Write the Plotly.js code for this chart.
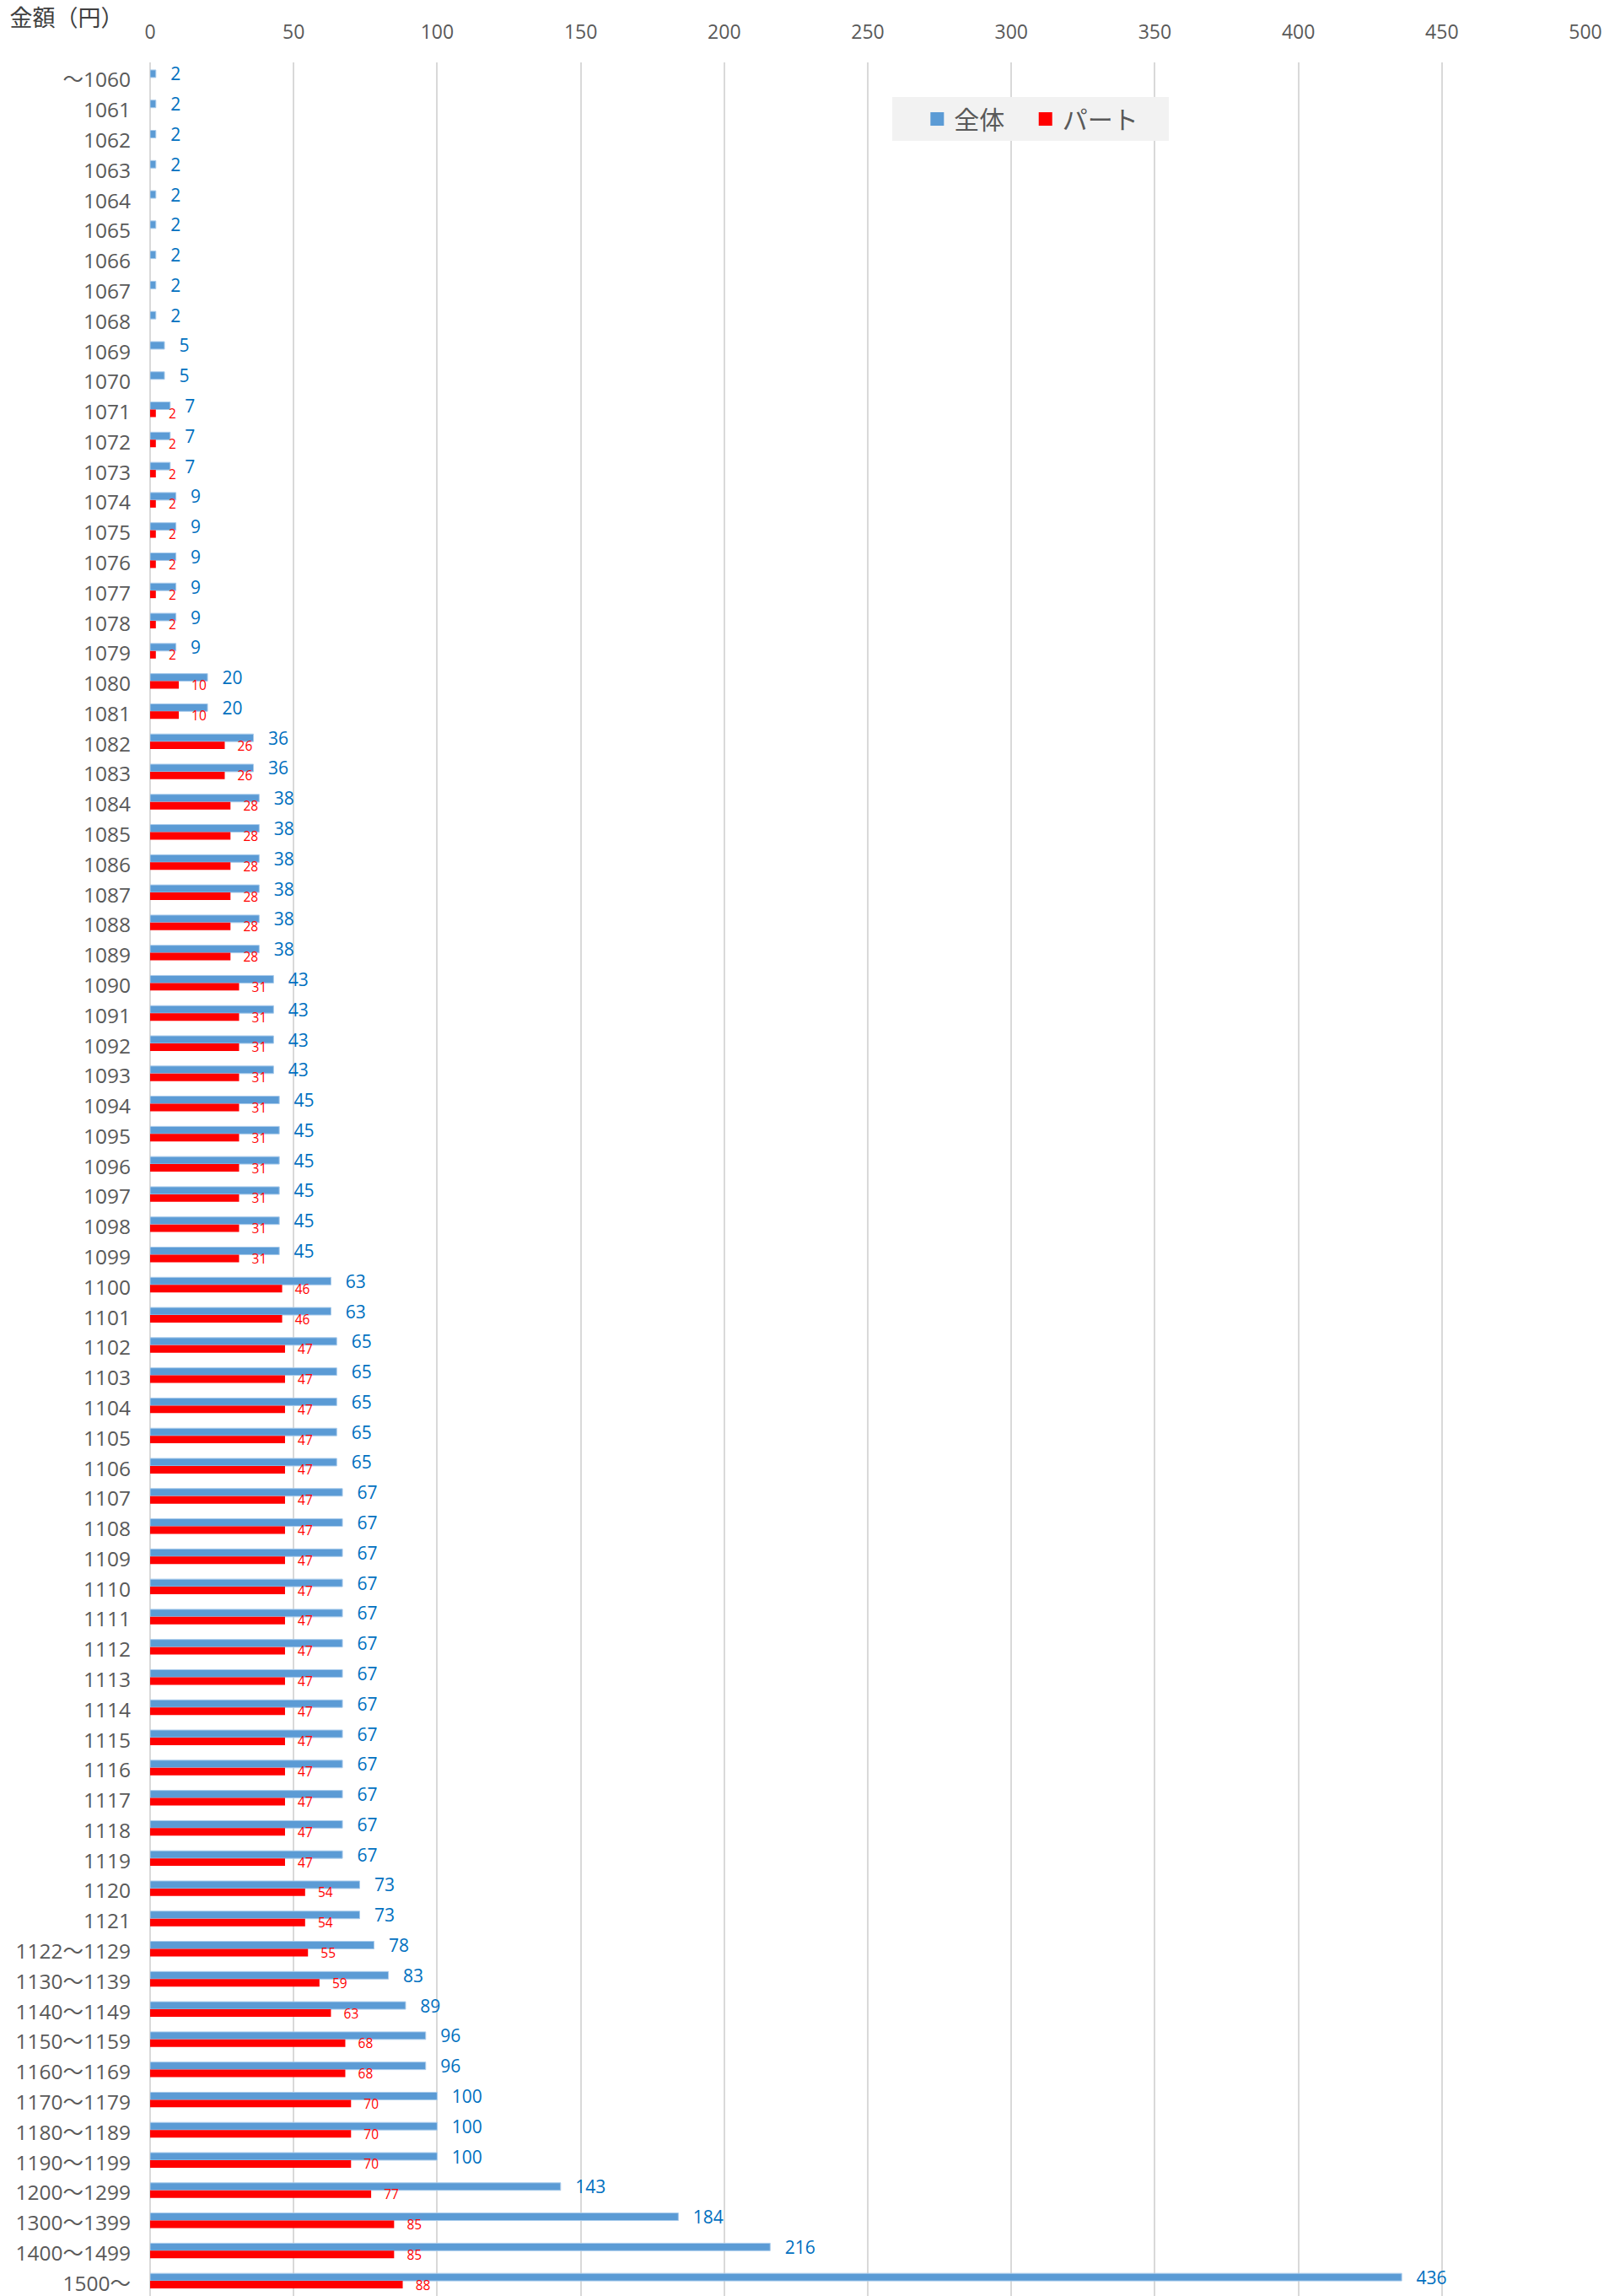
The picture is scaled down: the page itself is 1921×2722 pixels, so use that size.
<!DOCTYPE html>
<html>
<head>
<meta charset="utf-8">
<script src="https://cdn.plot.ly/plotly-3.0.1.min.js"></script>
<style>html,body{margin:0;padding:0;background:#fff;}</style>
</head>
<body>
<div id="chart" style="width:1921px;height:2722px;"></div>
<script>
const categories = [
  "〜1060","1061","1062","1063","1064","1065","1066","1067","1068","1069","1070",
  "1071","1072","1073","1074","1075","1076","1077","1078","1079","1080","1081",
  "1082","1083","1084","1085","1086","1087","1088","1089","1090","1091","1092",
  "1093","1094","1095","1096","1097","1098","1099","1100","1101","1102","1103",
  "1104","1105","1106","1107","1108","1109","1110","1111","1112","1113","1114",
  "1115","1116","1117","1118","1119","1120","1121",
  "1122〜1129","1130〜1139","1140〜1149","1150〜1159","1160〜1169",
  "1170〜1179","1180〜1189","1190〜1199","1200〜1299","1300〜1399","1400〜1499","1500〜"
];
const zentai = [
  2,2,2,2,2,2,2,2,2,5,5,
  7,7,7,9,9,9,9,9,9,20,20,
  36,36,38,38,38,38,38,38,43,43,43,
  43,45,45,45,45,45,45,63,63,65,65,
  65,65,65,67,67,67,67,67,67,67,67,
  67,67,67,67,67,73,73,
  78,83,89,96,96,
  100,100,100,143,184,216,436
];
const part = [
  null,null,null,null,null,null,null,null,null,null,null,
  2,2,2,2,2,2,2,2,2,10,10,
  26,26,28,28,28,28,28,28,31,31,31,
  31,31,31,31,31,31,31,46,46,47,47,
  47,47,47,47,47,47,47,47,47,47,47,
  47,47,47,47,47,54,54,
  55,59,63,68,68,
  70,70,70,77,85,85,88
];
const seriesNames = ["全体", "パート"];
const seriesColors = ["#5B9BD5", "#FF0000"];
const labelColors = ["#0070C0", "#FF0000"];
const xTicks = [0,50,100,150,200,250,300,350,400,450,500];

const FONT = "'Open Sans', 'Noto Sans CJK JP', sans-serif";
const NB = "\u00a0";

const traces = [
  {
    type: "bar", orientation: "h", name: seriesNames[0], showlegend: false,
    y: categories, x: zentai,
    marker: {color: seriesColors[0], line: {color: "#A9CBEB", width: 1}},
    texttemplate: NB + NB + "\u2009%{x}",
    textposition: "outside",
    constraintext: "none",
    cliponaxis: false,
    textfont: {family: FONT, size: 21, color: labelColors[0]},
    hoverinfo: "x+y"
  },
  {
    type: "bar", orientation: "h", name: seriesNames[1], showlegend: false,
    y: categories, x: part,
    marker: {color: seriesColors[1]},
    texttemplate: NB + NB + NB + "%{x}",
    textposition: "outside",
    constraintext: "none",
    cliponaxis: false,
    textfont: {family: FONT, size: 15.5, color: labelColors[1]},
    hoverinfo: "x+y"
  },
  // legend entries (square swatches)
  {
    type: "scatter", mode: "markers", name: seriesNames[0] + NB.repeat(3),
    x: [null], y: [null], hoverinfo: "skip",
    marker: {symbol: "square", size: 16, color: seriesColors[0]}
  },
  {
    type: "scatter", mode: "markers", name: seriesNames[1] + NB.repeat(4),
    x: [null], y: [null], hoverinfo: "skip",
    marker: {symbol: "square", size: 16, color: seriesColors[1]}
  }
];

const layout = {
  width: 1921, height: 2722,
  margin: {l: 178, r: 41, t: 74, b: 0, pad: 0},
  paper_bgcolor: "#ffffff", plot_bgcolor: "#ffffff",
  font: {family: FONT, color: "#595959", size: 24},
  barmode: "group", bargap: 0.5, bargroupgap: 0,
  title: {
    text: "金額（円）",
    font: {family: FONT, size: 27, color: "#404040"},
    xref: "container", yref: "container",
    x: 0.006, xanchor: "left",
    y: 1 - 22/2722, yanchor: "middle"
  },
  xaxis: {
    side: "top", range: [0, 500],
    tickvals: xTicks, ticktext: xTicks.map(String),
    showgrid: true, gridcolor: "#D9D9D9", gridwidth: 1.5,
    zeroline: true, zerolinecolor: "#D9D9D9", zerolinewidth: 2,
    showline: false, ticks: "",
    ticklabelstandoff: 22,
    tickfont: {family: FONT, size: 23, color: "#595959"},
    fixedrange: true
  },
  yaxis: {
    type: "category", autorange: "reversed",
    showgrid: false, zeroline: false, showline: false, ticks: "",
    ticklabelstandoff: 22,
    ticklabelshift: -3,
    tickfont: {family: FONT, size: 24.5, color: "#595959"},
    fixedrange: true
  },
  legend: {
    orientation: "h", x: 0.517, xanchor: "left", y: 0.9845, yanchor: "top",
    bgcolor: "#F2F2F2", borderwidth: 0,
    font: {family: FONT, size: 30, color: "#595959"},
    title: {text: NB + NB + NB, side: "left", font: {family: FONT, size: 30}},
    traceorder: "normal", itemclick: false, itemdoubleclick: false
  },
  showlegend: true
};

Plotly.newPlot("chart", traces, layout, {displayModeBar: false, responsive: false});
</script>
</body>
</html>
